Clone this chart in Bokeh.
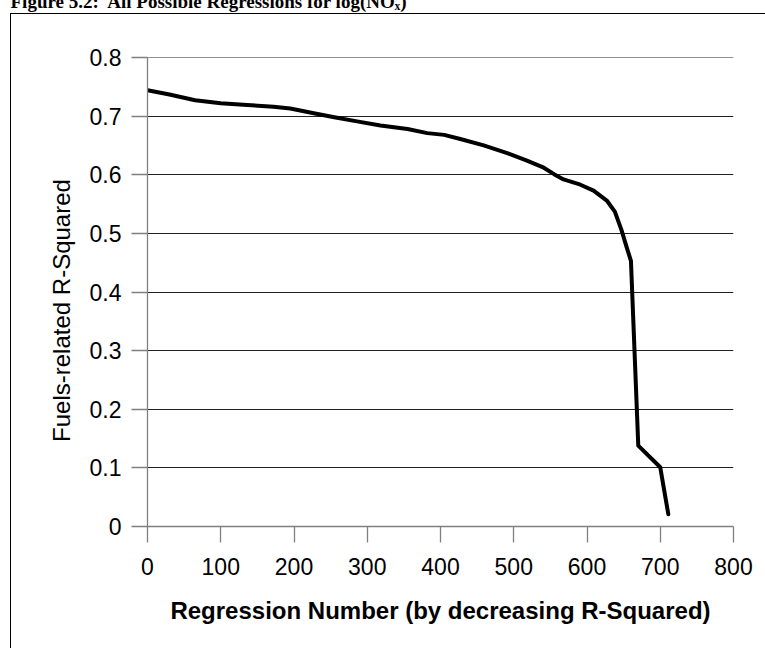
import math
from bokeh.plotting import figure
from bokeh.models import (Label, FixedTicker, CustomJSTickFormatter, Range1d, Span,
                          InlineStyleSheet)
from bokeh.embed import file_html
from bokeh.resources import INLINE

# ---- data ----
regression_number = [0, 30, 65, 100, 136, 172, 195, 227, 255, 286, 318, 355, 382,
                     405, 427, 459, 491, 518, 541, 555, 568, 591, 609, 627, 638,
                     647, 654, 660, 670, 700, 711]
fuels_r_squared = [0.744, 0.737, 0.727, 0.722, 0.719, 0.716, 0.713, 0.705, 0.698,
                   0.691, 0.684, 0.678, 0.671, 0.668, 0.661, 0.650, 0.637, 0.624,
                   0.612, 0.601, 0.592, 0.583, 0.573, 0.556, 0.537, 0.506, 0.477,
                   0.453, 0.138, 0.101, 0.021]
x_ticks = [0, 100, 200, 300, 400, 500, 600, 700, 800]
y_ticks = [0, 0.1, 0.2, 0.3, 0.4, 0.5, 0.6, 0.7, 0.8]

title_text = "Figure 5.2:\u00a0 All Possible Regressions for log(NO\u2093)"
x_title = "Regression Number (by decreasing R-Squared)"
y_title = "Fuels-related R-Squared"

W, H = 765, 658
FL, FR, FT, FB = 147, 32, 57, 132
FW, FH = W - FL - FR, H - FT - FB

# thin page-box line (left and top edges) drawn over the canvas
page_box = InlineStyleSheet(css="""
:host { position: relative; }
:host::after {
  content: ""; position: absolute; left: 10px; top: 13px;
  width: 755px; height: 635px;
  border-left: 1.3px solid #000; border-top: 1.3px solid #000;
  pointer-events: none; z-index: 10; box-sizing: border-box;
}
""")

p = figure(width=W, height=H, output_backend="svg", toolbar_location=None,
           x_range=Range1d(0, 800), y_range=Range1d(0, 0.8),
           min_border_left=FL, min_border_right=FR, min_border_top=FT,
           min_border_bottom=FB, stylesheets=[page_box])
p.outline_line_color = None
p.background_fill_color = "white"
p.border_fill_color = "white"

p.line(regression_number, fuels_r_squared, line_color="black", line_width=4,
       line_join="round", line_cap="round")

# axes
for ax in (p.xaxis[0], p.yaxis[0]):
    ax.axis_line_color = "#808080"
    ax.axis_line_width = 1.3
    ax.major_tick_line_color = "#808080"
    ax.major_tick_line_width = 1.3
    ax.major_tick_out = 16
    ax.major_tick_in = 0
    ax.minor_tick_line_color = None
    ax.major_label_text_font = "Liberation Sans"
    ax.major_label_text_font_size = "23px"
    ax.major_label_text_color = "black"
    ax.major_label_standoff = 10
p.xaxis.major_label_standoff = 15

p.xaxis.ticker = FixedTicker(ticks=x_ticks)
p.yaxis.ticker = FixedTicker(ticks=y_ticks)
p.yaxis.formatter = CustomJSTickFormatter(
    code="return Math.abs(tick) < 1e-9 ? '0' : tick.toFixed(1);")

p.xaxis.axis_label = x_title
p.xaxis.axis_label_text_font = "Liberation Sans"
p.xaxis.axis_label_text_font_style = "bold"
p.xaxis.axis_label_text_font_size = "24px"
p.xaxis.axis_label_text_color = "black"
p.xaxis.axis_label_standoff = 19

p.xgrid.grid_line_color = None
p.ygrid.ticker = FixedTicker(ticks=y_ticks)
p.ygrid.grid_line_color = "#222222"
p.ygrid.grid_line_width = 1
p.add_layout(Span(location=y_ticks[-1], dimension="width", line_color="#222222",
                  line_width=1))

# y axis title: label in the right side panel (origin = frame right / bottom)
p.add_layout(Label(x=60.5 - (FL + FW), y=(FT + FH) - 310, x_units="screen",
                   y_units="screen", text=y_title, angle=math.pi / 2,
                   text_align="center", text_baseline="middle",
                   text_font="Liberation Sans", text_font_size="24px",
                   text_color="black"), "right")

# figure caption (cut at the top, as in the source)
p.add_layout(Label(x=10 - FL, y=56, x_units="screen", y_units="screen",
                   text=title_text, text_align="left", text_baseline="alphabetic",
                   text_font="Liberation Serif", text_font_style="bold",
                   text_font_size="19px", text_color="black"), "above")

open("out.html", "w").write(file_html(p, INLINE))
